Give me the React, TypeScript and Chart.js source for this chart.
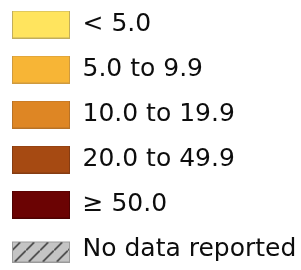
import React, { useEffect, useRef } from "react";
import { Chart, registerables } from "chart.js";

Chart.register(...registerables);

const categories = ["< 5.0", "5.0 to 9.9", "10.0 to 19.9", "20.0 to 49.9", "≥ 50.0", "No data reported"];
const fillColors = ["#FFE45E", "#F7B536", "#DE8624", "#A64A12", "#6B0303", "hatch"];
const borderColors = ["#C2AE5C", "#CF9A3E", "#B87226", "#853C12", "#4E0202", "#9A9A9A"];

function makeHatch(g: CanvasRenderingContext2D): CanvasPattern | string {
  const s = 14;
  const c = document.createElement("canvas");
  c.width = s;
  c.height = s;
  const h = c.getContext("2d");
  if (!h) return "#C4C4C4";
  h.fillStyle = "#C4C4C4";
  h.fillRect(0, 0, s, s);
  h.strokeStyle = "#333333";
  h.lineWidth = 1.5;
  h.beginPath();
  h.moveTo(-1, s + 1);
  h.lineTo(s + 1, -1);
  h.moveTo(-2, 1);
  h.lineTo(1, -2);
  h.moveTo(s - 1, s + 2);
  h.lineTo(s + 2, s - 1);
  h.stroke();
  return g.createPattern(c, "repeat") || "#C4C4C4";
}

function makeSymbol(fill: string, border: string, hatched: boolean): HTMLCanvasElement {
  const w = 58;
  const bh = hatched ? 21 : 28;
  const offset = hatched ? 5 : 0;
  const c = document.createElement("canvas");
  c.width = w;
  c.height = bh + offset;
  const g = c.getContext("2d");
  if (!g) return c;
  g.fillStyle = hatched ? (makeHatch(g) as any) : fill;
  g.fillRect(0, offset, w, bh);
  g.strokeStyle = border;
  g.lineWidth = 1;
  g.strokeRect(0.5, offset + 0.5, w - 1, bh - 1);
  return c;
}

export default function App() {
  const ref = useRef<HTMLCanvasElement | null>(null);
  useEffect(() => {
    document.body.style.margin = "0";
    if (!ref.current) return;
    const symbols = categories.map((_, i) =>
      makeSymbol(fillColors[i], borderColors[i], fillColors[i] === "hatch")
    );
    const chart = new Chart(ref.current, {
      type: "bar",
      data: {
        labels: [],
        datasets: categories.map((c, i) => ({
          label: c,
          data: [],
          backgroundColor: fillColors[i] === "hatch" ? "#C4C4C4" : fillColors[i],
          borderColor: borderColors[i],
          borderWidth: 1,
          pointStyle: symbols[i] as any,
        })),
      },
      options: {
        responsive: false,
        animation: false,
        layout: { padding: 0 },
        scales: { x: { display: false }, y: { display: false } },
        plugins: {
          tooltip: { enabled: false },
          legend: {
            position: "chartArea" as any,
            align: "start",
            onClick: () => {},
            labels: {
              usePointStyle: true,
              pointStyleWidth: 58,
              padding: 20,
              color: "#0D0D0D",
              font: { family: "DejaVu Sans", size: 25 },
            },
          },
        },
      },
    });
    return () => chart.destroy();
  }, []);
  return (
    <div style={{ position: "relative", width: 301, height: 270, overflow: "hidden" }}>
      <canvas
        ref={ref}
        width={330}
        height={300}
        style={{ position: "absolute", left: -8, top: -8 }}
      />
    </div>
  );
}
